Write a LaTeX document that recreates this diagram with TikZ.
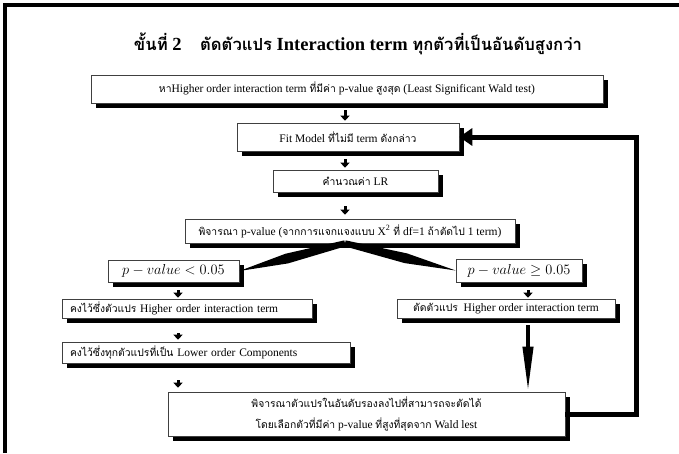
\documentclass[tikz,border=0pt]{standalone}
\usepackage{fontspec}
\setmainfont{Liberation Serif}
\newfontfamily\thaifont[Script=Thai,Scale=0.9]{Loma}
\newcommand{\tha}[1]{{\thaifont #1}}
\usetikzlibrary{arrows.meta,shadows,calc}

\begin{document}
\begin{tikzpicture}[x=1pt, y=-1pt,
  box/.style={draw=black!75, fill=white, line width=0.6pt, inner sep=2pt,
              font=\fontsize{11.5}{13}\selectfont, align=center,
              drop shadow={shadow xshift=5pt, shadow yshift=-5pt,
                           fill=black, opacity=1}},
  lbox/.style={box, align=left, inner xsep=8pt},
  cond/.style={box, font=\fontsize{15.5}{17}\selectfont, inner xsep=6pt},
  stub/.style={line width=3pt, -{Triangle[length=5pt,width=9pt]}},
  bigarr/.style={line width=4pt, -{Triangle[length=45pt,width=10pt]}},
  back/.style={line width=5pt, -{Triangle[length=13pt,width=17pt]}},
]
\useasboundingbox (0,0) rectangle (679,453);
% frame
\draw[line width=3.5pt] (5,453) -- (5,5) -- (679,5);

\node[font=\fontsize{18.5}{22}\selectfont\bfseries] (title) at (358,44)
  {\tha{ขั้นที่} 2\quad \tha{ตัดตัวแปร} Interaction term \tha{ทุกตัวที่เป็นอันดับสูงกว่า}};

\node[box, minimum width=512, minimum height=28] (find) at (347,89)
  {\tha{หา}Higher order interaction term \tha{ที่มีค่า} p-value \tha{สูงสุด} (Least Significant Wald test)};
\node[box, minimum width=222, minimum height=28] (fit) at (348,137)
  {Fit Model \tha{ที่ไม่มี} term \tha{ดังกล่าว}};
\node[box, minimum width=165, minimum height=22] (lr) at (355.5,181)
  {\tha{คำนวณค่า} LR};
\node[box, minimum width=330, minimum height=24] (pval) at (350,231)
  {\tha{พิจารณา} p-value (\tha{จากการแจกแจงแบบ} X\textsuperscript{2} \tha{ที่} df=1 \tha{ถ้าตัดไป} 1 term)};

\node[cond, minimum width=131, minimum height=22] (small) at (173.5,271)
  {$p - value < 0.05$};
\node[cond, minimum width=126, minimum height=23] (large) at (519,270.5)
  {$p - value \geq 0.05$};

\node[lbox, text width=234, minimum height=19] (keep) at (187,308.5)
  {\tha{คงไว้ซึ่งตัวแปร} Higher order interaction term};
\node[box, minimum width=218, minimum height=19] (drop) at (506,308.5)
  {\tha{ตัดตัวแปร}\ \ Higher order interaction term};
\node[lbox, text width=272, minimum height=21] (lower) at (206,352.5)
  {\tha{คงไว้ซึ่งทุกตัวแปรที่เป็น} Lower order Components};
\node[box, minimum width=397, minimum height=44,
      font=\fontsize{11.5}{21}\selectfont] (next) at (366.5,414)
  {\tha{พิจารณาตัวแปรในอันดับรองลงไปที่สามารถจะตัดได้}\\
   \tha{โดยเลือกตัวที่มีค่า} p-value \tha{ที่สูงที่สุดจาก} Wald lest};

\coordinate (ax) at (345,0);
\coordinate (lx) at (178,0);
\coordinate (rx) at (528,0);
\coordinate (fx) at (636,0);

% short arrows
\draw[stub, shorten <=7pt, shorten >=2pt] (find.south -| ax) -- (fit.north -| ax);
\draw[stub, shorten <=8pt, shorten >=2pt] (fit.south -| ax) -- (lr.north -| ax);
\draw[stub, shorten <=14pt, shorten >=4pt] (lr.south -| ax) -- (pval.north -| ax);
\draw[stub, shorten <=8pt, shorten >=1pt] (small.south -| lx) -- (keep.north -| lx);
\draw[stub, shorten <=8pt, shorten >=1pt] (large.south -| rx) -- (drop.north -| rx);
\draw[stub, shorten <=15pt, shorten >=2pt] (keep.south -| lx) -- (lower.north -| lx);
\draw[stub, shorten <=17pt, shorten >=4pt] (lower.south -| lx) -- (next.north -| lx);

% split wedges
\coordinate (s) at (pval.south -| ax);
\foreach \t in {small.east, large.west}
  \fill ($(s)!3pt!90:(\t)$) -- ($(s)!.55!(\t)!5pt!90:(\t)$) -- (\t)
    -- ($(s)!.55!(\t)!5pt!-90:(\t)$) -- ($(s)!3pt!-90:(\t)$) -- cycle;

\draw[bigarr, shorten <=7pt] (drop.south -| rx) -- (next.north -| rx);
\draw[back] (next.east) -- (next.east -| fx) |- (fit.east);
\end{tikzpicture}
\end{document}
